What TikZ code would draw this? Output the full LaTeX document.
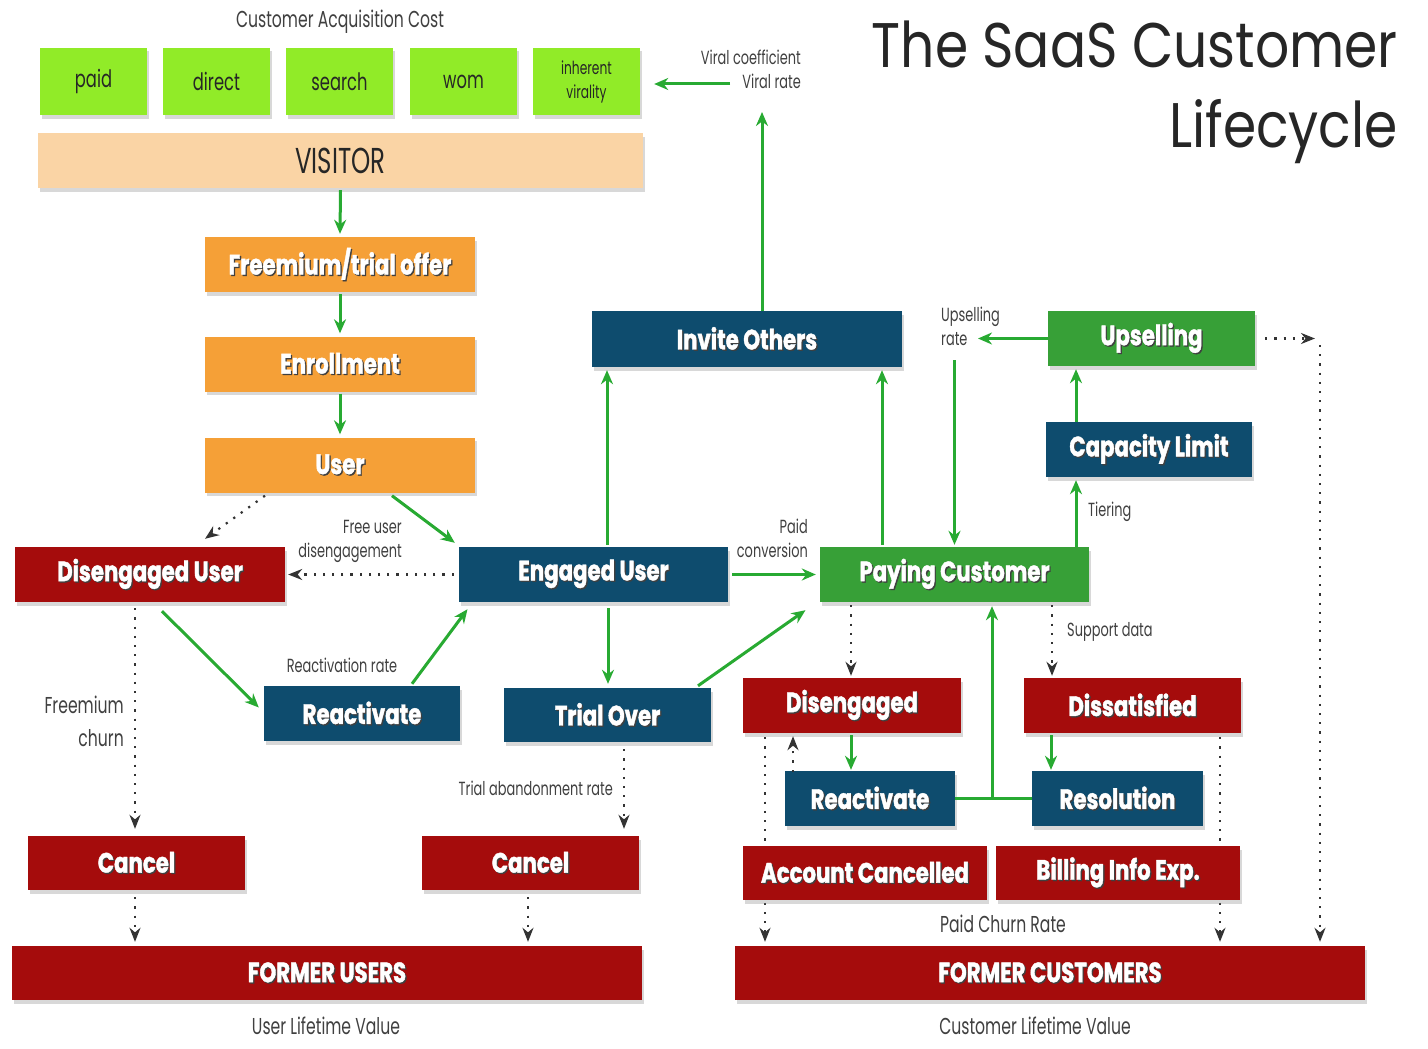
\documentclass[tikz,border=0pt]{standalone}
\usepackage{fontspec}
\setmainfont{Poppins}
\newfontfamily\cond[FakeStretch=0.68]{Poppins}
\newfontfamily\boxf[FakeStretch=0.76, BoldFeatures={FakeBold=1.4}]{Poppins}
\newfontfamily\titlef[FakeStretch=0.85]{Poppins}
\usetikzlibrary{arrows.meta,shadows,backgrounds}
\definecolor{limeC}{RGB}{145,235,40}
\definecolor{peachC}{RGB}{250,212,165}
\definecolor{orangeC}{RGB}{245,160,55}
\definecolor{blueC}{RGB}{14,76,110}
\definecolor{gboxC}{RGB}{55,160,55}
\definecolor{redC}{RGB}{165,12,12}
\definecolor{arrG}{RGB}{40,170,50}
\newcommand\shd[1]{\leavevmode\rlap{\kern1.3pt\raisebox{-1.3pt}{\color{black!75}#1}}#1}
\begin{document}
\begin{tikzpicture}[x=1pt,y=-1pt,
  box/.style={rectangle, inner sep=0pt, drop shadow={shadow xshift=1.5pt,shadow yshift=-3.5pt,opacity=0.3}},
  sz/.style 2 args={minimum width=#1pt, minimum height=#2pt},
  lime/.style={box, fill=limeC, sz={107}{67}, text=black!85, font=\cond\fontsize{24}{22}\selectfont, align=center},
  wbox/.style={box, text=white, font=\boxf\bfseries\fontsize{28}{30}\selectfont},
  ora/.style={wbox, fill=orangeC, sz={270}{55}},
  blu/.style={wbox, fill=blueC},
  grn/.style={wbox, fill=gboxC},
  red/.style={wbox, fill=redC},
  lab/.style={font=\cond\fontsize{19}{24}\selectfont, text=black!75, inner sep=0pt},
  garrow/.style={draw=arrG, line width=3pt, -{Stealth[length=14pt,width=12pt]}},
  gline/.style={draw=arrG, line width=3pt},
  darrow/.style={draw=black!80, line width=2.2pt, dash pattern=on 2.2pt off 7pt, -{Stealth[length=14pt,width=11pt,fill=black!80]}},
  dline/.style={draw=black!80, line width=2.2pt, dash pattern=on 2.2pt off 7pt}
]
\fill[white] (0,0) rectangle (1428,1049);
\useasboundingbox (0,0) rectangle (1428,1049);

% title
\node[font=\titlef\fontsize{63}{70}\selectfont, text=black!85, anchor=base east, inner sep=0pt] (t1) at (1398,67) {The SaaS Customer};
\node[font=\titlef\fontsize{63}{70}\selectfont, text=black!85, anchor=base east, inner sep=0pt] (t2) at (1398,147) {Lifecycle};

% acquisition
\node[lab, font=\cond\fontsize{23}{26}\selectfont] (cac) at (340,22) {Customer Acquisition Cost};
\node[lime] (paid) at (93.5,81.5) {paid};
\node[lime] (direct) at (216.5,81.5) {direct};
\node[lime] (search) at (339.5,81.5) {search};
\node[lime] (wom) at (463.5,81.5) {wom};
\node[lime, font=\cond\fontsize{18}{24}\selectfont] (inh) at (586.5,81.5) {inherent\\virality};
\node[box, fill=peachC, sz={605}{55}, text=black!85, font=\cond\fontsize{36}{38}\selectfont] (vis) at (340.5,160.5) {VISITOR};

\node[ora] (fto) at (340,264.5) {\shd{Freemium/trial offer}};
\node[ora] (enr) at (340,364) {\shd{Enrollment}};
\node[ora] (usr) at (340,465) {\shd{User}};

% middle
\node[blu, sz={310}{56}] (io) at (747,339) {\shd{Invite Others}};
\node[grn, sz={207}{55}] (ups) at (1151.5,338.5) {\shd{Upselling}};
\node[blu, sz={206}{55}] (cap) at (1149,449.5) {\shd{Capacity Limit}};
\node[grn, sz={269}{55}] (pc) at (954.5,574.5) {\shd{Paying Customer}};
\node[blu, sz={269}{55}] (eu) at (593.5,574.5) {\shd{Engaged User}};
\node[red, sz={270}{55}] (du) at (150,574.5) {\shd{Disengaged User}};
\node[blu, sz={196}{55}] (rea) at (362,713.5) {\shd{Reactivate}};
\node[blu, sz={207}{54}] (to) at (607.5,715) {\shd{Trial Over}};
\node[red, sz={217}{54}] (can1) at (136.5,863) {\shd{Cancel}};
\node[red, sz={217}{54}] (can2) at (530.5,863) {\shd{Cancel}};
\node[red, sz={630}{54}] (fu) at (327,973) {\shd{FORMER USERS}};

% right
\node[red, sz={218}{55}] (dis) at (852,705.5) {\shd{Disengaged}};
\node[red, sz={217}{55}] (dsat) at (1132.5,705.5) {\shd{Dissatisfied}};
\node[blu, sz={170}{55}] (rea2) at (870,798.5) {\shd{Reactivate}};
\node[blu, sz={171}{55}] (res) at (1117.5,798.5) {\shd{Resolution}};
\node[red, sz={630}{54}] (fc) at (1050,973) {\shd{FORMER CUSTOMERS}};

% lines passing behind the two lower boxes
\draw[darrow] ([xshift=-87pt,yshift=-4pt]dis.south) -- ([xshift=-285pt,yshift=4pt]fc.north);
\draw[darrow] ([xshift=87.5pt,yshift=-4pt]dsat.south) -- ([xshift=170pt,yshift=4pt]fc.north);
\node[red, sz={244}{54}] (ac) at (865,873) {\shd{Account Cancelled}};
\node[red, sz={244}{54}] (bie) at (1118,873) {\shd{Billing Info Exp.}};

% labels
\node[lab, align=right, anchor=east] (vcl) at (801,69) {Viral coefficient\\Viral rate};
\node[lab, align=left, anchor=west] (url) at (941,326) {Upselling\\rate};
\node[lab, anchor=west] (tier) at (1088,512) {Tiering};
\node[lab, align=right, anchor=east] (pcl) at (808,538) {Paid\\conversion};
\node[lab, align=right, anchor=east] (fud) at (402,541) {Free user\\disengagement};
\node[lab] (rrl) at (342,665) {Reactivation rate};
\node[lab, align=right, anchor=east, font=\cond\fontsize{23}{33}\selectfont] (fch) at (124,721) {Freemium\\churn};
\node[lab, anchor=east] (tar) at (613,788) {Trial abandonment rate};
\node[lab, anchor=west] (sdl) at (1067,632) {Support data};
\node[lab, font=\cond\fontsize{23}{26}\selectfont] (pcr) at (1003,924) {Paid Churn Rate};
\node[lab, font=\cond\fontsize{23}{26}\selectfont] (ulv) at (326,1026) {User Lifetime Value};
\node[lab, font=\cond\fontsize{23}{26}\selectfont] (clv) at (1035,1026) {Customer Lifetime Value};

% coordinates
\coordinate (vcTop) at (762,112);
\coordinate (vrL) at (730,84);
\coordinate (urR) at (978,338.5);
\coordinate (urD) at (954.5,360);
\coordinate (jn) at (992,798.5);
\coordinate (upR) at (1315,338.5);
\coordinate (upD) at (1320,345);

% green arrows
\draw[garrow] ([yshift=-2pt]vis.south) -- ([yshift=3pt]fto.north);
\draw[garrow] ([yshift=-2pt]fto.south) -- ([yshift=3pt]enr.north);
\draw[garrow] ([yshift=-2pt]enr.south) -- ([yshift=3pt]usr.north);
\draw[garrow] ([xshift=52pt,yshift=-3pt]usr.south) -- ([xshift=-4pt,yshift=4pt]eu.north west);
\draw[garrow] ([xshift=12pt,yshift=-9pt]du.south) -- ([xshift=-5pt,yshift=6pt]rea.west);
\draw[garrow] ([xshift=50pt,yshift=2pt]rea.north) -- ([xshift=-126pt,yshift=-7pt]eu.south);
\draw[garrow] ([xshift=14.5pt,yshift=-6pt]eu.south) -- ([xshift=0.5pt,yshift=4pt]to.north);
\draw[garrow] ([xshift=90.5pt,yshift=2pt]to.north) -- ([xshift=-149pt,yshift=-8pt]pc.south);
\draw[garrow] ([xshift=4pt]eu.east) -- ([xshift=-4pt]pc.west);
\draw[garrow] ([xshift=13.5pt,yshift=2pt]eu.north) -- ([xshift=-140pt,yshift=-3pt]io.south);
\draw[garrow] ([xshift=-72.5pt,yshift=2pt]pc.north) -- ([xshift=135pt,yshift=-3pt]io.south);
\draw[garrow] ([xshift=15pt]io.north) -- (vcTop);
\draw[garrow] (vrL) -- ([xshift=14pt,yshift=-2.5pt]inh.east);
\draw[garrow] (ups.west) -- (urR);
\draw[garrow] (urD) -- ([yshift=2pt]pc.north);
\draw[garrow] ([xshift=121.5pt]pc.north) -- ([xshift=-73pt,yshift=-3pt]cap.south);
\draw[garrow] ([xshift=-73pt]cap.north) -- ([xshift=-75.5pt,yshift=-3pt]ups.south);
\draw[garrow] ([xshift=-1pt,yshift=-2pt]dis.south) -- ([xshift=-19pt,yshift=1pt]rea2.north);
\draw[garrow] ([xshift=-81.5pt,yshift=-2pt]dsat.south) -- ([xshift=-66.5pt,yshift=1pt]res.north);
\draw[gline] (rea2.east) -- (jn) -- (res.west);
\draw[garrow] (jn) -- ([xshift=37.5pt,yshift=-4pt]pc.south);

% dotted arrows
\draw[darrow] ([xshift=-75pt,yshift=-3pt]usr.south) -- ([xshift=55pt,yshift=8pt]du.north);
\draw[darrow] ([xshift=-5pt]eu.west) -- ([xshift=3pt]du.east);
\draw[darrow] ([xshift=-15pt,yshift=-6pt]du.south) -- ([xshift=-1.5pt,yshift=7pt]can1.north);
\draw[darrow] ([xshift=16.5pt,yshift=-7pt]to.south) -- ([xshift=93.5pt,yshift=7pt]can2.north);
\draw[darrow] ([xshift=-1.5pt,yshift=-7pt]can1.south) -- ([xshift=-192pt,yshift=4pt]fu.north);
\draw[darrow] ([xshift=-2.5pt,yshift=-7pt]can2.south) -- ([xshift=201pt,yshift=4pt]fu.north);
\draw[darrow] ([xshift=-103.5pt,yshift=-3pt]pc.south) -- ([xshift=-1pt,yshift=2pt]dis.north);
\draw[darrow] ([xshift=97.5pt,yshift=-3pt]pc.south) -- ([xshift=-80.5pt,yshift=2pt]dsat.north);
\draw[darrow] ([xshift=-77pt,yshift=-1pt]rea2.north) -- ([xshift=-59pt,yshift=-3pt]dis.south);
\draw[darrow] ([xshift=10pt]ups.east) -- (upR);
\draw[darrow] (upD) -- ([xshift=270pt,yshift=4pt]fc.north);
\end{tikzpicture}
\end{document}
